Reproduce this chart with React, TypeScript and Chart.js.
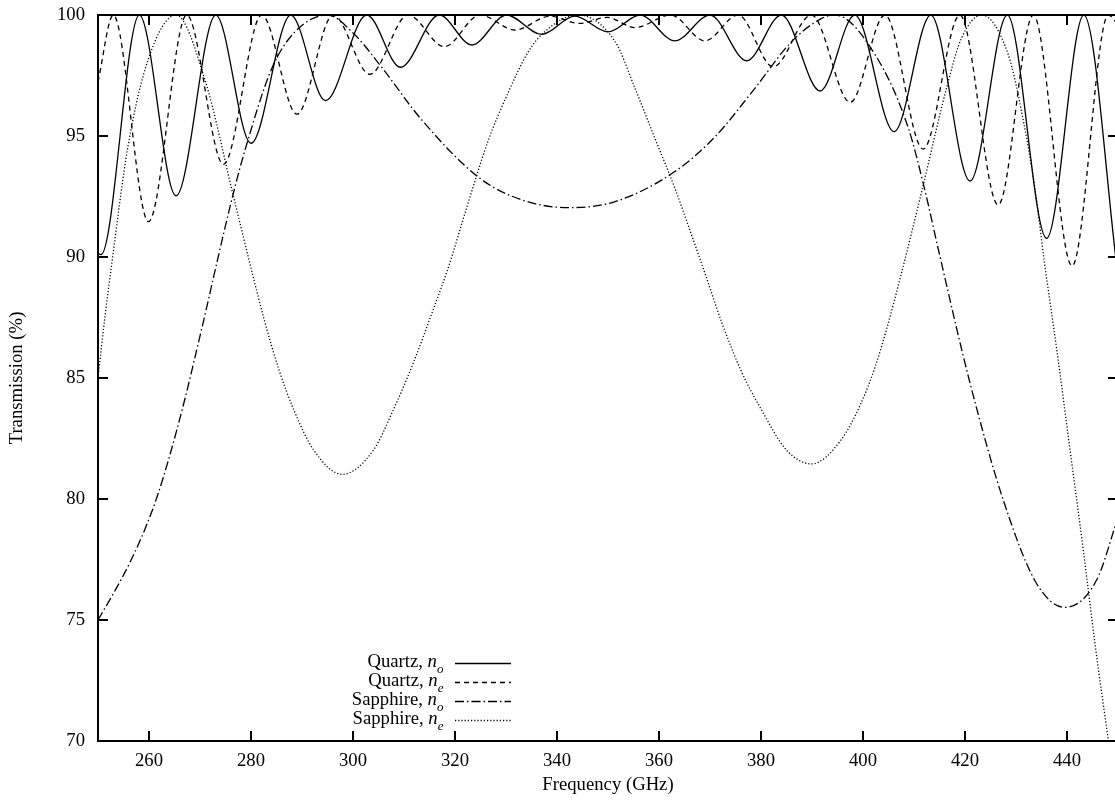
import React, { useEffect, useRef } from "react";
import { Chart, registerables } from "chart.js";

Chart.register(...registerables);

const FONT = "'Liberation Serif', 'Times New Roman', Times, serif";
const FONT_SIZE = 18.7;

const X_MIN = 250;
const X_MAX = 450;
const Y_MIN = 70;
const Y_MAX = 100;
const X_TICKS = [260, 280, 300, 320, 340, 360, 380, 400, 420, 440];
const Y_TICKS = [70, 75, 80, 85, 90, 95, 100];
const X_TITLE = "Frequency (GHz)";
const Y_TITLE = "Transmission (%)";

const SERIES_NAMES = ["Quartz, ", "Quartz, ", "Sapphire, ", "Sapphire, "];
const SERIES_SUBS = ["o", "e", "o", "e"];

// Quartz, n_o (solid)
const quartzNoFreq = [250, 250.6, 258.1, 265.3, 273.1, 280.0, 287.8, 294.6, 302.7, 309.3, 316.9, 323.3, 330.1, 337.0, 343.5, 350.0, 356.3, 363.1, 370.0, 377.2, 384.0, 391.6, 398.4, 406.1, 413.3, 421.0, 428.3, 436.0, 443.3, 450];
const quartzNoTrans = [90.15, 90.1, 100, 92.53, 100, 94.7, 100, 96.46, 100, 97.84, 100, 98.76, 100, 99.2, 99.95, 99.3, 100, 98.93, 100, 98.11, 100, 96.86, 100, 95.18, 100, 93.14, 100, 90.77, 100, 89.2];

// Quartz, n_e (dashed)
const quartzNeFreq = [250, 253.0, 259.9, 267.4, 274.6, 282.1, 289.0, 296.1, 303.3, 310.8, 317.9, 324.9, 331.8, 338.6, 344.5, 349.8, 355.3, 362.3, 369.0, 375.5, 382.4, 389.9, 397.5, 404.3, 411.8, 419.0, 426.5, 433.4, 441.0, 448.1, 450];
const quartzNeTrans = [97.24, 100, 91.46, 100, 93.83, 100, 95.9, 100, 97.55, 100, 98.69, 100, 99.38, 99.95, 99.65, 99.9, 99.48, 100, 98.93, 100, 97.86, 100, 96.39, 100, 94.46, 100, 92.15, 100, 89.63, 100, 99.6];

// Sapphire, n_o (dash-dot)
const sapphireNoFreq = [250, 253.3, 256.2, 259.2, 261.6, 264.0, 267.0, 269.4, 271.4, 272.8, 276.5, 278.8, 284.1, 288.6, 295.0, 300.4, 305.3, 313.5, 324.9, 333.1, 342.2, 351.4, 363.1, 371.0, 378.8, 386.0, 391.9, 394.5, 402.4, 408.9, 412.2, 414.8, 421.0, 427.5, 434.0, 439.6, 445.8, 449.4, 450];
const sapphireNoTrans = [75.0, 76.2, 77.35, 78.75, 80.1, 81.75, 84.1, 86.2, 88.0, 89.3, 92.6, 94.4, 97.8, 99.3, 100, 99.17, 97.93, 95.66, 93.25, 92.36, 92.04, 92.29, 93.53, 94.97, 96.97, 98.9, 99.86, 100, 98.35, 95.32, 92.7, 90.29, 84.78, 79.96, 76.52, 75.52, 76.65, 78.86, 79.3];

// Sapphire, n_e (dotted)
const sapphireNeFreq = [250, 251.4, 252.5, 255.9, 259.9, 265.3, 271.0, 276.5, 280.1, 282.6, 285.5, 288.4, 292.3, 297.9, 304.0, 307.9, 311.8, 315.7, 318.9, 322.0, 326.5, 330.5, 334.4, 337.6, 344.0, 351.4, 355.3, 359.2, 363.1, 366.4, 369.3, 372.3, 376.2, 380.1, 385.0, 389.9, 395.7, 399.6, 402.4, 404.6, 407.5, 411.5, 416.7, 419.3, 423.3, 428.5, 431.1, 433.7, 435.5, 438.0, 440.6, 443.2, 445.5, 448.2, 450];
const sapphireNeTrans = [85.0, 87.6, 89.4, 94.6, 98.2, 100, 97.3, 92.56, 89.46, 87.4, 85.33, 83.68, 82.02, 81.02, 82.02, 83.68, 85.61, 87.81, 89.7, 91.84, 94.8, 96.83, 98.49, 99.31, 100, 98.9, 96.97, 94.9, 92.85, 90.9, 89.15, 87.3, 85.25, 83.68, 82.02, 81.45, 82.44, 83.95, 85.47, 87.0, 89.3, 92.7, 97.24, 99.04, 100, 98.35, 96.0, 92.84, 89.9, 86.16, 82.02, 77.89, 74.0, 69.9, 67.3];

const zip = (xs: number[], ys: number[]) => xs.map((x, i) => ({ x, y: ys[i] }));

const gnuplotFrame = {
  id: "gnuplotFrame",
  afterDatasetsDraw(chart: any) {
    const { ctx, chartArea: a, scales } = chart;
    const xs = scales.x;
    const ys = scales.y;
    ctx.save();
    ctx.strokeStyle = "#000";
    ctx.setLineDash([]);
    ctx.lineWidth = 2;
    ctx.beginPath();
    for (const v of X_TICKS) {
      const p = xs.getPixelForValue(v);
      ctx.moveTo(p, a.bottom);
      ctx.lineTo(p, a.bottom - 10);
      ctx.moveTo(p, a.top);
      ctx.lineTo(p, a.top + 10);
    }
    for (const v of Y_TICKS) {
      const p = ys.getPixelForValue(v);
      ctx.moveTo(a.left, p);
      ctx.lineTo(a.left + 10, p);
      ctx.moveTo(a.right, p);
      ctx.lineTo(a.right - 10, p);
    }
    ctx.stroke();
    ctx.strokeRect(a.left, a.top, a.right - a.left, a.bottom - a.top);

    // key
    const textRight = a.left + 345.5;
    const lineStart = a.left + 357;
    const lineEnd = a.left + 413;
    const row0 = a.bottom - 77.7;
    const rowStep = 19;
    const normal = `${FONT_SIZE}px ${FONT}`;
    const ital = `italic ${FONT_SIZE}px ${FONT}`;
    const sub = `italic ${(FONT_SIZE * 0.7).toFixed(1)}px ${FONT}`;
    ctx.fillStyle = "#000";
    ctx.textBaseline = "alphabetic";
    ctx.textAlign = "left";
    chart.data.datasets.forEach((ds: any, i: number) => {
      const y = row0 + i * rowStep;
      const base = y + 3.5;
      ctx.font = sub;
      const ws = ctx.measureText(SERIES_SUBS[i]).width;
      ctx.font = ital;
      const wn = ctx.measureText("n").width;
      ctx.font = normal;
      const wt = ctx.measureText(SERIES_NAMES[i]).width;
      const x0 = textRight - ws - wn - wt;
      ctx.fillText(SERIES_NAMES[i], x0, base);
      ctx.font = ital;
      ctx.fillText("n", x0 + wt, base);
      ctx.font = sub;
      ctx.fillText(SERIES_SUBS[i], x0 + wt + wn, base + 6.5);

      ctx.lineWidth = ds.borderWidth;
      ctx.setLineDash(ds.borderDash || []);
      ctx.beginPath();
      ctx.moveTo(lineStart, Math.round(y) + 0.5);
      ctx.lineTo(lineEnd, Math.round(y) + 0.5);
      ctx.stroke();
    });
    ctx.restore();
  },
};

export default function App() {
  const ref = useRef<HTMLCanvasElement>(null);

  useEffect(() => {
    const canvas = ref.current;
    if (!canvas) return;
    const common = {
      borderColor: "#000",
      borderWidth: 1.3,
      pointRadius: 0,
      fill: false,
      cubicInterpolationMode: "monotone" as const,
    };
    const tickFont = { family: FONT, size: FONT_SIZE };
    const chart = new Chart(canvas, {
      type: "line",
      data: {
        datasets: [
          { ...common, label: "Quartz, n_o", data: zip(quartzNoFreq, quartzNoTrans), borderDash: [] },
          { ...common, label: "Quartz, n_e", data: zip(quartzNeFreq, quartzNeTrans), borderDash: [5, 4] },
          { ...common, label: "Sapphire, n_o", data: zip(sapphireNoFreq, sapphireNoTrans), borderDash: [9, 3, 1.5, 3] },
          { ...common, label: "Sapphire, n_e", data: zip(sapphireNeFreq, sapphireNeTrans), borderDash: [1.2, 2] },
        ],
      },
      options: {
        animation: false,
        responsive: false,
        devicePixelRatio: 1,
        events: [],
        layout: { padding: { top: 15, right: 2, left: 0, bottom: 0 } },
        plugins: { legend: { display: false }, tooltip: { enabled: false } },
        scales: {
          x: {
            type: "linear",
            min: X_MIN,
            max: X_MAX,
            afterBuildTicks: (s: any) => {
              s.ticks = X_TICKS.map((v) => ({ value: v }));
            },
            afterFit: (s: any) => {
              s.height = 61;
              s.paddingLeft = 0;
              s.paddingRight = 0;
            },
            grid: { display: false, drawTicks: false },
            border: { display: false },
            ticks: {
              autoSkip: false,
              maxRotation: 0,
              padding: 8.8,
              color: "#000",
              font: tickFont,
              callback: (v: any) => String(v),
            },
            title: {
              display: true,
              text: X_TITLE,
              color: "#000",
              font: tickFont,
              padding: { top: 0, bottom: 6 },
            },
          },
          y: {
            type: "linear",
            min: Y_MIN,
            max: Y_MAX,
            afterBuildTicks: (s: any) => {
              s.ticks = Y_TICKS.map((v) => ({ value: v }));
            },
            afterFit: (s: any) => {
              s.width = 98;
              s.paddingTop = 0;
              s.paddingBottom = 0;
            },
            grid: { display: false, drawTicks: false },
            border: { display: false },
            ticks: {
              padding: 13,
              color: "#000",
              font: tickFont,
              callback: (v: any) => String(v),
            },
            title: {
              display: true,
              text: Y_TITLE,
              color: "#000",
              font: tickFont,
              padding: { top: 5.8, bottom: 0 },
            },
          },
        },
      } as any,
      plugins: [gnuplotFrame],
    });
    return () => chart.destroy();
  }, []);

  return (
    <div
      style={{
        position: "fixed",
        left: 0,
        top: 0,
        width: 1115,
        height: 802,
        overflow: "hidden",
        background: "#fff",
      }}
    >
      <canvas ref={ref} width={1120} height={802} style={{ display: "block", width: 1120, height: 802 }} />
    </div>
  );
}
